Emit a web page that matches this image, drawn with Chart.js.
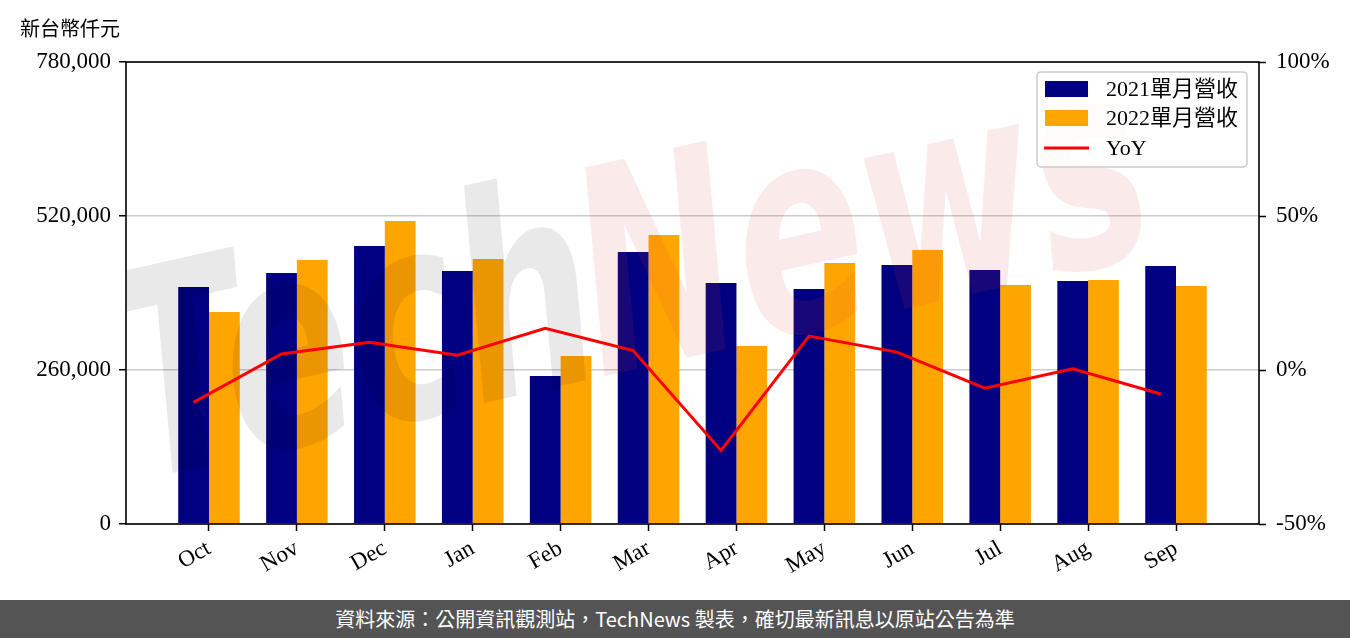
<!DOCTYPE html>
<html><head><meta charset="utf-8">
<script src="https://cdn.jsdelivr.net/npm/chart.js@4/dist/chart.umd.min.js"></script>
<style>
html,body{margin:0;padding:0;background:#fff;width:1350px;height:638px;overflow:hidden}
#wrap{position:relative;width:1350px;height:600px}
#footer{width:1350px;height:38px;background:#545454;color:#fff;font-family:"Noto Sans CJK TC";font-size:20px;line-height:38px;text-align:center}
</style></head><body>
<div id="wrap"><canvas id="c" width="1350" height="600"></canvas></div>
<div id="footer">資料來源：公開資訊觀測站，TechNews 製表，確切最新訊息以原站公告為準</div>
<script>
const months = ['Oct','Nov','Dec','Jan','Feb','Mar','Apr','May','Jun','Jul','Aug','Sep'];
const rev2021 = [400000,423800,469300,427100,249900,459200,406900,396800,437300,428800,410300,435600];
const rev2022 = [357900,445700,511600,447400,283600,487900,300500,440600,462600,403500,412000,401800];
const yoy = [-10.5,5.2,9.0,4.8,13.5,6.3,-26.1,11.0,5.8,-5.9,0.4,-7.8];
const leftTicks = [0,260000,520000,780000];
const rightTicks = [-50,0,50,100];
const seriesNames = ['2021單月營收','2022單月營收','YoY'];
const seriesColors = ['#000080','#FFA500','#FF0000'];
const unitLabel = '新台幣仟元';
const watermark = ['Tech','News'];
const barWidth = 0.35;
const lineShift = -barWidth/2;

const tickFont = {family:'"Liberation Serif", serif', size:23};

const deco = {
  id:'deco',
  afterDatasetDraw(chart,args){
    if(args.index!==0) return;
    const ctx=chart.ctx, a=chart.chartArea;
    ctx.save();
    ctx.beginPath(); ctx.rect(a.left,a.top,a.right-a.left,a.bottom-a.top); ctx.clip();
    ctx.translate(140,480); ctx.rotate(-0.22); ctx.scale(1.0,1.5);
    ctx.font='bold italic 190px "DejaVu Sans"';
    ctx.textBaseline='alphabetic';
    ctx.fillStyle='rgba(0,0,0,0.085)';
    ctx.fillText(watermark[0],0,0);
    const w=ctx.measureText(watermark[0]).width;
    ctx.fillStyle='rgba(220,60,60,0.11)';
    ctx.fillText(watermark[1],w-10,0);
    ctx.restore();
  },
  afterDraw(chart){
    const ctx=chart.ctx, a=chart.chartArea;
    ctx.save();
    ctx.strokeStyle='#000'; ctx.lineWidth=1.6;
    ctx.strokeRect(a.left,a.top,a.right-a.left,a.bottom-a.top);
    ctx.font='20px "Noto Sans CJK TC"';
    ctx.fillStyle='#000'; ctx.textBaseline='middle'; ctx.textAlign='left';
    ctx.fillText(unitLabel,20,28);
    const lx=1037, ly=72, lw=210, lh=95;
    ctx.beginPath(); ctx.roundRect(lx,ly,lw,lh,4);
    ctx.fillStyle='rgba(255,255,255,0.8)'; ctx.fill();
    ctx.strokeStyle='#cccccc'; ctx.lineWidth=1.5; ctx.stroke();
    const rows=[89,118,148];
    ctx.font='22px "Liberation Serif", "Noto Sans CJK TC"';
    for(let i=0;i<3;i++){
      const y=rows[i];
      if(i<2){ ctx.fillStyle=seriesColors[i]; ctx.fillRect(1045,y-8,43,16); }
      else { ctx.strokeStyle=seriesColors[i]; ctx.lineWidth=3; ctx.beginPath(); ctx.moveTo(1044,y); ctx.lineTo(1089,y); ctx.stroke(); }
      ctx.fillStyle='#000'; ctx.textBaseline='middle';
      ctx.fillText(seriesNames[i],1106,y+1);
    }
    ctx.restore();
  }
};

new Chart(document.getElementById('c'),{
  type:'bar',
  data:{
    datasets:[
      {type:'bar',label:seriesNames[0],data:rev2021.map((v,i)=>({x:i,y:v})),backgroundColor:seriesColors[0],yAxisID:'y',order:1,categoryPercentage:barWidth*2,barPercentage:1.0},
      {type:'bar',label:seriesNames[1],data:rev2022.map((v,i)=>({x:i,y:v})),backgroundColor:seriesColors[1],yAxisID:'y',order:1,categoryPercentage:barWidth*2,barPercentage:1.0},
      {type:'line',label:seriesNames[2],data:yoy.map((v,i)=>({x:i+lineShift,y:v})),borderColor:seriesColors[2],borderWidth:3,pointRadius:0,fill:false,tension:0,yAxisID:'y2',order:0}
    ]
  },
  options:{
    responsive:false,animation:false,devicePixelRatio:1,
    layout:{padding:{top:62,left:0,right:0,bottom:0}},
    plugins:{legend:{display:false},tooltip:{enabled:false},title:{display:false}},
    scales:{
      x:{type:'linear',min:-0.944,max:11.944,offset:false,
        grid:{offset:false,drawOnChartArea:false,drawTicks:true,tickLength:7,tickColor:'#000',tickWidth:1.5},
        border:{display:false},
        afterBuildTicks:s=>{s.ticks=months.map((m,i)=>({value:i}));},
        afterFit:s=>{s.height=76;},
        ticks:{autoSkip:false,maxRotation:30,minRotation:30,padding:4,color:'#000',font:tickFont,callback:v=>months[v]}
      },
      y:{position:'left',min:0,max:780000,
        grid:{color:'#cccccc',lineWidth:1.5,tickLength:7,tickColor:'#000',tickWidth:1.5},
        border:{display:false},
        afterBuildTicks:s=>{s.ticks=leftTicks.map(v=>({value:v}));},
        afterFit:s=>{s.width=126;},
        ticks:{padding:8,color:'#000',font:tickFont,callback:v=>v.toLocaleString('en-US')}
      },
      y2:{position:'right',min:-50,max:100,
        grid:{drawOnChartArea:false,tickLength:7,tickColor:'#000',tickWidth:1.5},
        border:{display:false},
        afterBuildTicks:s=>{s.ticks=rightTicks.map(v=>({value:v}));},
        afterFit:s=>{s.width=91;},
        ticks:{padding:10,color:'#000',font:tickFont,callback:v=>v+'%'}
      }
    }
  },
  plugins:[deco]
});
</script>
</body></html>
